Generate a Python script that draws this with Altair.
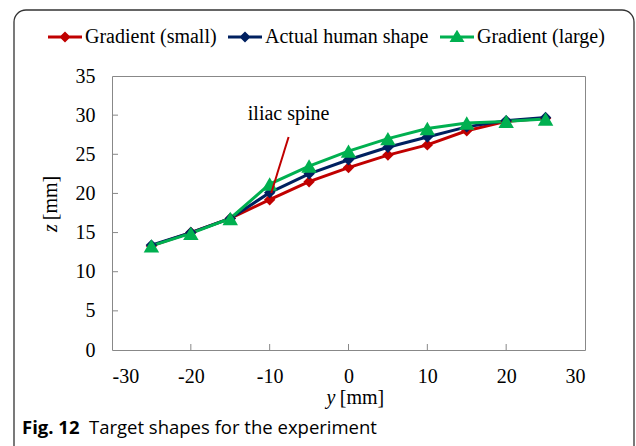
import altair as alt
import pandas as pd

# ---- data ----
y_mm = [-25, -20, -15, -10, -5, 0, 5, 10, 15, 20, 25]
z_small = [13.3, 15.0, 16.8, 19.2, 21.5, 23.3, 24.9, 26.2, 28.0, 29.2, 29.6]
z_actual = [13.4, 15.0, 16.8, 20.1, 22.5, 24.3, 25.9, 27.2, 28.5, 29.3, 29.7]
z_large = [13.3, 14.9, 16.8, 21.2, 23.5, 25.4, 27.0, 28.3, 29.0, 29.2, 29.5]
series_names = ["Gradient (small)", "Actual human shape", "Gradient (large)"]
series_colors = ["#C00000", "#002060", "#00B050"]
series_shapes = ["diamond", "diamond", "triangle-up"]
series_sizes = [130, 130, 240]

x_ticks = [-30, -20, -10, 0, 10, 20, 30]
y_ticks = [0, 5, 10, 15, 20, 25, 30, 35]
x_inner_ticks = [-20, -10, 0, 10, 20]
y_inner_ticks = [5, 10, 15, 20, 25, 30]

ann_text = ["iliac spine"]
ann_text_pos = [-7.6, 30.1]
ann_line_y = [-7.6, -9.8]
ann_line_z = [27.2, 20.05]

x_title = ["y", "[mm]"]
y_title = ["z", "[mm]"]
caption = ["Fig. 12", "Target shapes for the experiment"]

W, H = 473, 274
SERIF = "Liberation Serif"

rows = []
for name, zs in zip(series_names, [z_small, z_actual, z_large]):
    for yv, zv in zip(y_mm, zs):
        rows.append({"series": name, "y": yv, "z": zv})
df = pd.DataFrame(rows)
legend_df = pd.DataFrame({"series": series_names})

xs = alt.Scale(domain=[-30, 30], nice=False, zero=False)
ys = alt.Scale(domain=[0, 35], nice=False, zero=False)
color_scale = alt.Scale(domain=series_names, range=series_colors)

# legend symbols: line segment + marker, all filled
bar = "M-1,-0.088L1,-0.088L1,0.088L-1,0.088Z"
dia_path = bar + "M-0.33,0L0,-0.33L0.33,0L0,0.33Z"
tri_path = bar + "M-0.44,0.3L0,-0.42L0.44,0.3Z"
legend_shapes = [dia_path, dia_path, tri_path]

legend = alt.Legend(
    orient="none", legendX=-64, legendY=-56, direction="horizontal", title=None,
    symbolSize=1156, labelFont=SERIF, labelFontSize=20, labelColor="black",
    labelOffset=3, columnPadding=11, labelLimit=400, symbolStrokeWidth=0,
    symbolOpacity=1,
)

lab_expr = "toString(datum.value)"
x_axis = alt.Axis(values=x_ticks, labelPadding=16, title=None, labelOverlap=False, labelExpr=lab_expr)
y_axis = alt.Axis(values=y_ticks, labelPadding=17, title=None, labelOverlap=False, labelExpr=lab_expr)

# legend carrier: points placed off canvas, only its legend is visible
legend_layer = alt.Chart(legend_df).mark_point(
    filled=True, opacity=1, strokeWidth=0
).encode(
    x=alt.value(-2000), y=alt.value(-2000),
    color=alt.Color("series:N", scale=color_scale, legend=legend),
    shape=alt.Shape("series:N", scale=alt.Scale(domain=series_names, range=legend_shapes), legend=legend),
)

lines = alt.Chart(df).mark_line(strokeWidth=3).encode(
    x=alt.X("y:Q", scale=xs, axis=x_axis),
    y=alt.Y("z:Q", scale=ys, axis=y_axis),
    color=alt.Color("series:N", scale=color_scale, legend=None),
)

point_layers = []
for name, shp, sz in zip(series_names, series_shapes, series_sizes):
    point_layers.append(
        alt.Chart(df).transform_filter(alt.datum.series == name).mark_point(
            filled=True, opacity=1, strokeWidth=0, shape=shp, size=sz
        ).encode(
            x=alt.X("y:Q", scale=xs, axis=None),
            y=alt.Y("z:Q", scale=ys, axis=None),
            color=alt.Color("series:N", scale=color_scale, legend=None),
        )
    )

# inside ticks
xt = alt.Chart(pd.DataFrame({"t": x_inner_ticks})).mark_rule(color="#888888", strokeWidth=1).encode(
    x=alt.X("t:Q", scale=xs, axis=None), y=alt.value(H), y2=alt.value(H - 6))
yt = alt.Chart(pd.DataFrame({"t": y_inner_ticks})).mark_rule(color="#888888", strokeWidth=1).encode(
    y=alt.Y("t:Q", scale=ys, axis=None), x=alt.value(0), x2=alt.value(6))

# annotation
ann_line = alt.Chart(pd.DataFrame({"y": ann_line_y, "z": ann_line_z})).mark_line(
    color="#C00000", strokeWidth=2).encode(x=alt.X("y:Q", scale=xs, axis=None), y=alt.Y("z:Q", scale=ys, axis=None))
ann_lbl = alt.Chart(pd.DataFrame({"y": [ann_text_pos[0]], "z": [ann_text_pos[1]], "t": ann_text})).mark_text(
    font=SERIF, fontSize=20, color="black", align="center", baseline="middle").encode(
    x=alt.X("y:Q", scale=xs, axis=None), y=alt.Y("z:Q", scale=ys, axis=None), text="t:N")

def label(txt, x, y, **kw):
    return alt.Chart(pd.DataFrame({"t": [txt]})).mark_text(**kw).encode(
        text="t:N", x=alt.value(x), y=alt.value(y))

xt1 = label(x_title[0], 219, 322, font=SERIF, fontSize=20, fontStyle="italic", color="black", baseline="middle")
xt2 = label(x_title[1], 250, 322, font=SERIF, fontSize=20, color="black", baseline="middle")
yt1 = label(y_title[0], -61, 152, font=SERIF, fontSize=20, fontStyle="italic", color="black", baseline="middle", angle=270)
yt2 = label(y_title[1], -61, 122, font=SERIF, fontSize=20, color="black", baseline="middle", angle=270)
cap1 = label(caption[0], -90, 352, font="Open Sans", fontSize=18.5, fontWeight="bold", color="black", baseline="middle", align="left")
cap2 = label(caption[1], -23, 352, font="Open Sans", fontSize=18.5, color="black", baseline="middle", align="left")

frame = alt.Chart(pd.DataFrame({"a": [0]})).mark_rect(
    fillOpacity=0, stroke="#333333", strokeWidth=1.3, cornerRadius=12, clip=False).encode(
    x=alt.value(-98), x2=alt.value(522), y=alt.value(-66), y2=alt.value(385))

chart = alt.layer(
    legend_layer, lines, frame, xt, yt, *point_layers, ann_line, ann_lbl, xt1, xt2, yt1, yt2, cap1, cap2
).resolve_legend(
    color="independent", shape="independent"
).resolve_axis(
    x="independent", y="independent"
).properties(
    width=W, height=H,
    autosize=alt.AutoSizeParams(type="none"),
    padding={"left": 112, "top": 76, "right": 51, "bottom": 96},
    background="white",
).configure_view(
    stroke="#888888", strokeWidth=1
).configure_axis(
    labelFont=SERIF, labelFontSize=20, labelColor="black", domain=False, ticks=False, grid=False
)

chart.save("out.html", embed_options={"renderer": "svg", "actions": False})
